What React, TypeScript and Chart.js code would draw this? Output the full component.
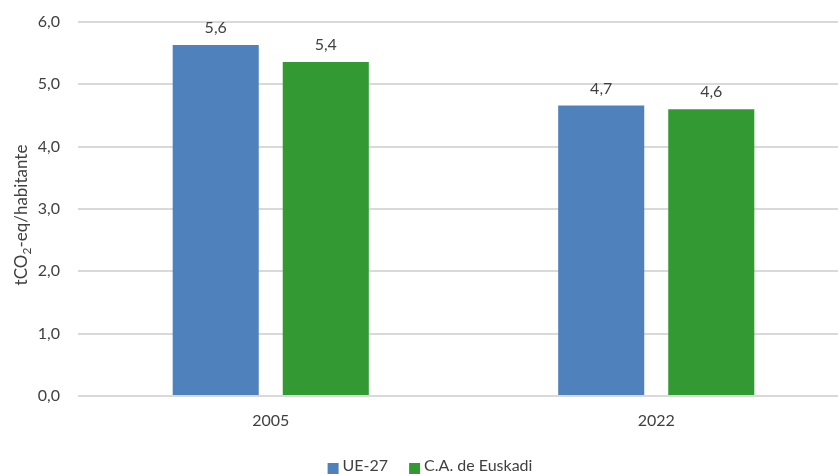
import React, { useEffect, useRef } from "react";
import { Chart, registerables } from "chart.js";

Chart.register(...registerables);

const categories = ["2005", "2022"];
const seriesNames = ["UE-27", "C.A. de Euskadi"];
const ue27Values = [5.63, 4.66];
const euskadiValues = [5.36, 4.6];
const yTicks = [0, 1, 2, 3, 4, 5, 6];
const yTitleParts = ["tCO", "2", "-eq/habitante"];

const BLUE = "#4F81BD";
const GREEN = "#339933";
const TEXT = "#404040";
const FONT = "Lato, 'Open Sans', sans-serif";

const fmt = (v: number) => v.toFixed(1).replace(".", ",");

const extrasPlugin = {
  id: "extras",
  afterDatasetsDraw(chart: any) {
    const ctx = chart.ctx;
    ctx.save();
    ctx.fillStyle = TEXT;
    ctx.font = `16px ${FONT}`;
    ctx.textAlign = "center";
    ctx.textBaseline = "middle";
    chart.data.datasets.forEach((ds: any, i: number) => {
      const meta = chart.getDatasetMeta(i);
      meta.data.forEach((bar: any, j: number) => {
        ctx.fillText(fmt(ds.data[j]), bar.x, bar.y - 17);
      });
    });
    ctx.restore();
  },
  afterDraw(chart: any) {
    const ctx = chart.ctx;
    const area = chart.chartArea;
    // y-axis title with subscript
    ctx.save();
    ctx.fillStyle = TEXT;
    ctx.textBaseline = "middle";
    ctx.textAlign = "left";
    const big = `17px ${FONT}`;
    const small = `12px ${FONT}`;
    ctx.font = big;
    const w1 = ctx.measureText(yTitleParts[0]).width;
    const w3 = ctx.measureText(yTitleParts[2]).width;
    ctx.font = small;
    const w2 = ctx.measureText(yTitleParts[1]).width;
    const total = w1 + w2 + w3;
    const cy = (area.top + area.bottom) / 2 + 6;
    ctx.translate(22, cy);
    ctx.rotate(-Math.PI / 2);
    let x = -total / 2;
    ctx.font = big;
    ctx.fillText(yTitleParts[0], x, 0);
    x += w1;
    ctx.font = small;
    ctx.fillText(yTitleParts[1], x, 5);
    x += w2;
    ctx.font = big;
    ctx.fillText(yTitleParts[2], x, 0);
    ctx.restore();

    // legend
    ctx.save();
    ctx.font = `16px ${FONT}`;
    ctx.textBaseline = "middle";
    ctx.textAlign = "left";
    const sq = 11;
    const gap = 4;
    const spacing = 21;
    const colors = [BLUE, GREEN];
    const widths = seriesNames.map((n) => ctx.measureText(n).width);
    const totalW = widths.reduce((a, b) => a + sq + gap + b, 0) + spacing;
    let lx = 430 - totalW / 2;
    const ly = 466;
    seriesNames.forEach((n, i) => {
      ctx.fillStyle = colors[i];
      ctx.fillRect(lx, 463, sq, sq);
      lx += sq + gap;
      ctx.fillStyle = TEXT;
      ctx.fillText(n, lx, ly);
      lx += widths[i] + spacing;
    });
    ctx.restore();
  },
};

export default function App() {
  const ref = useRef<HTMLCanvasElement | null>(null);
  useEffect(() => {
    if (!ref.current) return;
    const chart = new Chart(ref.current, {
      type: "bar",
      data: {
        labels: categories,
        datasets: [
          {
            label: seriesNames[0],
            data: ue27Values,
            backgroundColor: BLUE,
            categoryPercentage: 0.571,
            barPercentage: 0.782,
          },
          {
            label: seriesNames[1],
            data: euskadiValues,
            backgroundColor: GREEN,
            categoryPercentage: 0.571,
            barPercentage: 0.782,
          },
        ],
      },
      options: {
        animation: false,
        responsive: false,
        maintainAspectRatio: false,
        devicePixelRatio: 1,
        layout: { padding: { left: 0, right: 1, top: 22, bottom: 38 } },
        plugins: {
          legend: { display: false },
          tooltip: { enabled: false },
          title: { display: false },
        },
        scales: {
          x: {
            grid: { display: false },
            border: { display: false },
            ticks: { color: TEXT, font: { family: FONT, size: 16 }, padding: 7 },
            afterFit: (s: any) => {
              s.height = 40;
              s.paddingLeft = 0;
              s.paddingRight = 0;
            },
          },
          y: {
            min: 0,
            max: 6,
            afterBuildTicks: (s: any) => {
              s.ticks = yTicks.map((v) => ({ value: v }));
            },
            ticks: {
              color: TEXT,
              font: { family: FONT, size: 16 },
              padding: 18,
              callback: (v: any) => fmt(Number(v)),
            },
            grid: { color: "#D9D9D9", lineWidth: 2, drawTicks: false },
            border: { display: false },
            afterFit: (s: any) => {
              s.width = 78;
              s.paddingTop = 0;
              s.paddingBottom = 0;
            },
          },
        },
      },
      plugins: [extrasPlugin],
    });
    return () => chart.destroy();
  }, []);
  return (
    <div
      style={{
        position: "absolute",
        left: 0,
        top: 0,
        width: 838,
        height: 474,
        overflow: "hidden",
        background: "#fff",
      }}
    >
      <canvas ref={ref} width={850} height={474} style={{ display: "block" }} />
    </div>
  );
}
